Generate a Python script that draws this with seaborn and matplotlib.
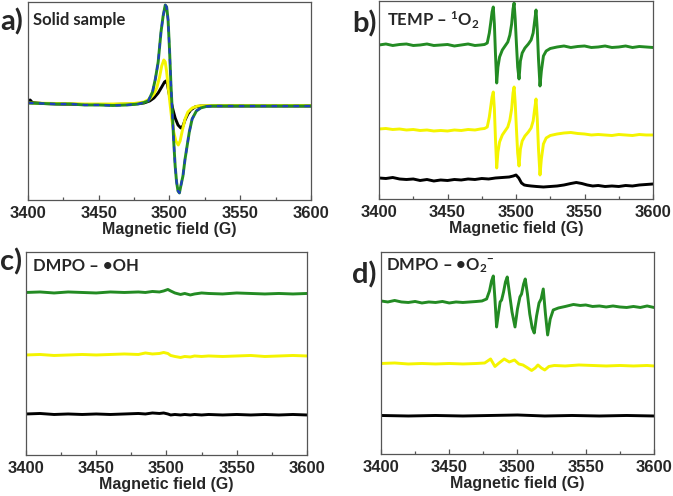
import matplotlib
matplotlib.use("Agg")
import matplotlib.pyplot as plt
from matplotlib.ticker import MultipleLocator
import seaborn as sns

# ---- panel a: solid sample (intensity in arbitrary units, baseline ~ 0)
a_field_green = [3400, 3410, 3420, 3430, 3440, 3450, 3460, 3470, 3478, 3482,
                 3485, 3488, 3490, 3492, 3494, 3495.5, 3497, 3498, 3499, 3500,
                 3501, 3502, 3503, 3504, 3505, 3506, 3507, 3508, 3509.5, 3511,
                 3512, 3514, 3516, 3519, 3522, 3526, 3530, 3540, 3550, 3560,
                 3570, 3580, 3590, 3600]
a_int_green = [1, 0.5, 0, 0, -1, -1, -1.5, -1, 0, 1.5,
               3, 12, 25, 42, 72, 88, 99, 97, 84, 55,
               20, -8, -38, -62, -78, -87, -89, -82, -72, -55,
               -46, -28, -15, -7, -4, -2.5, -2, -2, -2, -2,
               -2, -2, -2, -2]
# blue sample overlaps the green one
a_field_blue = a_field_green
a_int_blue = a_int_green

a_field_yellow = [3400, 3420, 3440, 3460, 3475, 3482, 3486, 3489, 3491, 3493,
                  3494.5, 3496, 3497, 3498, 3499, 3500.4, 3501.5, 3503, 3504.5, 3506.2,
                  3507.5, 3509, 3511, 3513, 3516, 3520, 3530, 3600]
a_int_yellow = [1, 0.5, 0, 0, 0.5, 2, 5, 10, 16, 27,
                38, 44, 42, 32, 18, 0, -14, -28, -37, -41,
                -37, -27, -15, -8, -4, -2, -1.5, -1.5]

a_field_black = [3400, 3401.5, 3403, 3410, 3420, 3440, 3460, 3475, 3482, 3486,
                 3489, 3492, 3494.5, 3496.5, 3497.5, 3498.5, 3499.5, 3500.5, 3501.5, 3502.5,
                 3504, 3506, 3508, 3509.5, 3511, 3513, 3515, 3518, 3522, 3600]
a_int_black = [3, 4, 1.5, 0.5, 0, -0.5, -0.5, 0, 1, 3,
               6, 11, 17, 22, 23, 20, 12, 5, 0, -6,
               -14, -21, -24, -22, -16, -10, -6, -3, -2, -2]

# ---- panel b: TEMP - 1O2
b_field = [3400, 3405, 3410, 3415, 3420, 3425, 3430, 3435, 3440, 3445,
           3450, 3455, 3460, 3465, 3470, 3474, 3477, 3479, 3480.5, 3481.5,
           3482.5, 3483.4, 3484.2, 3485, 3485.9, 3486.8, 3488, 3490, 3492, 3494,
           3495.5, 3496.8, 3497.8, 3498.6, 3499.4, 3500.3, 3501.2, 3502.2, 3503.2, 3504.5,
           3506.5, 3509, 3511, 3512.5, 3513.6, 3514.6, 3515.5, 3516.4, 3517.5, 3518.5,
           3520, 3522, 3525, 3530, 3535, 3540, 3545, 3550, 3555, 3560,
           3565, 3570, 3575, 3580, 3585, 3590, 3595, 3600]
b_int_green = [154, 155, 153.5, 154.5, 155, 153.5, 154, 155, 153.5, 154,
               154.5, 153, 154, 155, 153.5, 154, 154.5, 156, 166, 176,
               187, 192, 175, 145, 116, 132, 142, 149, 153, 157,
               164, 175, 190, 196, 180, 155, 132, 120, 138, 146,
               151, 155, 159, 166, 178, 189, 170, 140, 113, 128,
               143, 148, 150.5, 152, 153, 151.5, 152.5, 153, 151.5, 152,
               153, 151.5, 152, 153, 151.5, 152.5, 152, 151.5]
b_int_yellow = [70, 70.5, 69.5, 70, 69, 69.5, 68.5, 69, 68, 68.5,
                68, 69, 68.5, 69.5, 69, 70, 70.5, 72, 82, 92,
                102, 107, 90, 60, 31, 47, 57, 64, 68, 72,
                79, 90, 106, 112, 96, 70, 46, 33, 50, 58,
                63, 67, 71, 78, 90, 100, 80, 50, 24, 40,
                55, 61, 63.5, 65, 66, 66.5, 65.5, 65, 64, 64.5,
                64, 63.5, 64.5, 64, 63.5, 64.5, 64, 64]
b_field_black = [3400, 3405, 3410, 3415, 3420, 3425, 3430, 3435, 3440, 3445,
                 3450, 3455, 3460, 3465, 3470, 3475, 3480, 3485, 3490, 3495,
                 3498, 3500, 3502, 3504, 3506, 3508, 3511, 3515, 3520, 3525,
                 3530, 3535, 3540, 3544, 3548, 3552, 3556, 3560, 3565, 3570,
                 3575, 3580, 3585, 3590, 3595, 3600]
b_int_black = [21, 20.5, 21.5, 20, 19.5, 20, 18.5, 19.5, 18, 19,
               18.5, 19.5, 19, 20, 19.5, 20.5, 20, 21, 21.5, 22,
               23, 24, 21, 16, 14, 13.5, 13, 12.5, 12, 12.5,
               13, 14, 15.5, 16.5, 15.5, 14, 13, 13.5, 12.5, 13,
               12.5, 13.5, 13, 14, 14.5, 15]

# ---- panel c: DMPO - OH
c_field = [3400, 3410, 3420, 3430, 3440, 3450, 3460, 3470, 3480, 3485,
           3490, 3495, 3498, 3501, 3503, 3506, 3510, 3513, 3517, 3520,
           3525, 3530, 3540, 3550, 3560, 3570, 3580, 3590, 3600]
c_int_green = [162.5, 163, 162, 163, 162.5, 162, 163, 162.5, 163, 162.5,
               163.5, 163, 164, 165.5, 164, 162, 160.5, 161.5, 160, 161,
               162, 161.5, 161, 162, 161.5, 161, 161.5, 161, 161.5]
c_int_yellow = [100, 100.5, 99.5, 100, 100.5, 100, 100.5, 101, 100.5, 102,
                101, 101.5, 102.5, 101.5, 99.5, 98.5, 97.5, 98.5, 98, 99,
                98.5, 99, 98.5, 99, 99.5, 98.5, 99, 99.5, 99]
c_int_black = [41, 41.5, 40.5, 41, 40.5, 41, 40.5, 41, 41.5, 41,
               42, 41.5, 42, 41, 40, 40.5, 40, 40.5, 40, 40.5,
               40, 40.5, 40, 40.5, 40, 40.5, 40, 40.5, 40]

# ---- panel d: DMPO - O2-
d_field_green = [3400, 3405, 3410, 3415, 3420, 3425, 3430, 3435, 3440, 3445,
                 3450, 3455, 3460, 3465, 3470, 3474, 3477.4, 3479.5, 3481, 3482.3,
                 3483.5, 3484.7, 3486, 3487.3, 3488.4, 3489.8, 3491.2, 3492.5, 3494, 3496,
                 3498.2, 3500, 3501.8, 3503, 3504.5, 3505.7, 3507.3, 3509, 3510.8, 3512.3,
                 3514, 3515.8, 3517.3, 3518.9, 3520.5, 3522.1, 3524, 3526.2, 3530, 3535,
                 3541, 3546, 3550, 3555, 3560, 3565, 3570, 3575, 3580, 3585,
                 3590, 3595, 3600]
d_int_green = [153, 152, 153.5, 152, 151.5, 152.5, 151, 152, 151.5, 152.5,
               151, 152, 151.5, 152, 152.5, 153, 155, 163, 173, 178,
               155, 127, 140, 152, 154, 162, 172, 177, 162, 142,
               127, 145, 157, 160, 170, 175, 160, 140, 126, 121,
               138, 151, 155, 165, 140, 119, 135, 144, 146, 147.5,
               149.5, 148.5, 149, 147.5, 148, 147, 148, 147, 146.5, 147.5,
               146.5, 148, 146.5]
d_field_yellow = [3400, 3410, 3420, 3430, 3440, 3450, 3460, 3470, 3476, 3480.3,
                  3483.5, 3486.5, 3490.3, 3494, 3497.8, 3501, 3504, 3507, 3510.4, 3513,
                  3515, 3517.5, 3520, 3523, 3527, 3535, 3545, 3555, 3565, 3575,
                  3585, 3595, 3600]
d_int_yellow = [90.5, 91, 90, 90.5, 90, 90.5, 90, 90.5, 91, 95,
                87.5, 91, 95, 92, 94, 90, 89, 86.5, 83.5, 86,
                89, 86, 84, 87.5, 88.5, 88, 89, 88.5, 88, 88.5,
                88, 88.5, 88]
d_field_black = [3400, 3420, 3440, 3460, 3480, 3500, 3520, 3540, 3560, 3580, 3600]
d_int_black = [38.5, 38, 38.5, 38, 38.5, 39, 38, 38.5, 38, 38.5, 38]

GREEN = "#238b23"
YELLOW = "#f4f400"
BLACK = "#000000"
BLUE = "#1f3fbf"

sns.set_style("white")
plt.rcParams["font.family"] = ["Lato", "DejaVu Sans"]
plt.rcParams["mathtext.fontset"] = "custom"
plt.rcParams["mathtext.rm"] = "Lato:bold"
plt.rcParams["mathtext.it"] = "Lato:bold"
plt.rcParams["mathtext.bf"] = "Lato:bold"

fig = plt.figure(figsize=(6.73, 4.96), dpi=100)

# axes rectangles in figure fractions (left, bottom, width, height)
ax_a = fig.add_axes([0.0416, 0.5968, 0.4205, 0.3992])
ax_b = fig.add_axes([0.5632, 0.5988, 0.4071, 0.3992])
ax_c = fig.add_axes([0.0386, 0.0827, 0.4175, 0.4093])
ax_d = fig.add_axes([0.5661, 0.0847, 0.4056, 0.4073])

lw = 2.1

# panel a
sns.lineplot(x=a_field_black, y=a_int_black, ax=ax_a, color=BLACK, linewidth=lw)
sns.lineplot(x=a_field_yellow, y=a_int_yellow, ax=ax_a, color=YELLOW, linewidth=lw)
sns.lineplot(x=a_field_green, y=a_int_green, ax=ax_a, color=GREEN, linewidth=lw)
sns.lineplot(x=a_field_blue, y=a_int_blue, ax=ax_a, color=BLUE, linewidth=lw * 0.75,
             linestyle=(0, (2.5, 2.5)))
ax_a.set_ylim(-96, 102)

# panel b
sns.lineplot(x=b_field_black, y=b_int_black, ax=ax_b, color=BLACK, linewidth=lw)
sns.lineplot(x=b_field, y=b_int_yellow, ax=ax_b, color=YELLOW, linewidth=lw)
sns.lineplot(x=b_field, y=b_int_green, ax=ax_b, color=GREEN, linewidth=lw)
ax_b.set_ylim(0, 198)

# panel c
sns.lineplot(x=c_field, y=c_int_black, ax=ax_c, color=BLACK, linewidth=lw)
sns.lineplot(x=c_field, y=c_int_yellow, ax=ax_c, color=YELLOW, linewidth=lw)
sns.lineplot(x=c_field, y=c_int_green, ax=ax_c, color=GREEN, linewidth=lw)
ax_c.set_ylim(0, 203)

# panel d
sns.lineplot(x=d_field_black, y=d_int_black, ax=ax_d, color=BLACK, linewidth=lw)
sns.lineplot(x=d_field_yellow, y=d_int_yellow, ax=ax_d, color=YELLOW, linewidth=lw)
sns.lineplot(x=d_field_green, y=d_int_green, ax=ax_d, color=GREEN, linewidth=lw)
ax_d.set_ylim(0, 202)

titles = ["Solid sample", r"TEMP – $\mathrm{^{1}O_{2}}$", "DMPO – •OH",
          r"DMPO – •$\mathrm{O_{2}{}^{-}}$"]
title_pos = [(0.018, 0.884), (0.029, 0.874), (0.025, 0.908), (0.018, 0.907)]

for ax, title, pos in zip([ax_a, ax_b, ax_c, ax_d], titles, title_pos):
    ax.set_xlim(3400, 3600)
    ax.xaxis.set_major_locator(MultipleLocator(50))
    ax.xaxis.set_minor_locator(MultipleLocator(25))
    ax.set_yticks([])
    ax.tick_params(axis="x", which="both", direction="in", bottom=True, top=False,
                   color="#555555", width=0.9, pad=4)
    ax.tick_params(axis="x", which="major", length=3.5)
    ax.tick_params(axis="x", which="minor", length=2.5)
    for lab in ax.get_xticklabels():
        lab.set_fontfamily("Liberation Sans")
        lab.set_fontweight("bold")
        lab.set_fontsize(12)
    ax.set_xlabel("Magnetic field (G)", fontfamily="Liberation Sans",
                  fontweight="bold", fontsize=11.5, labelpad=1)
    ax.set_ylabel("")
    for sp in ax.spines.values():
        sp.set_color("#555555")
        sp.set_linewidth(0.9)
    ax.text(pos[0], pos[1], title, transform=ax.transAxes, fontsize=12,
            fontweight="bold", va="baseline", ha="left")

# panel letters (pixel positions converted to figure fractions)
W, H = 673, 496
letters = ["a)", "b)", "c)", "d)"]
letter_xy = [(0, 30), (352, 32), (0, 270), (352, 283)]
for s, (px, py) in zip(letters, letter_xy):
    fig.text(px / W, 1 - py / H, s, fontsize=21, fontweight="bold",
             ha="left", va="baseline")

fig.savefig("out.png", dpi=100)
